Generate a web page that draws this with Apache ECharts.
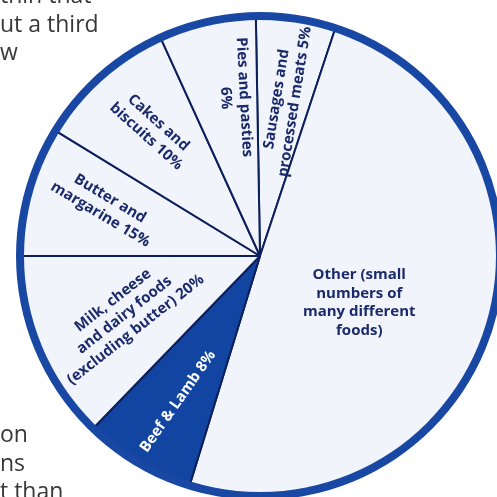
<!DOCTYPE html>
<html>
<head>
<meta charset="utf-8">
<script src="https://cdn.jsdelivr.net/npm/echarts@6/dist/echarts.min.js"></script>
<style>html,body{margin:0;padding:0;background:#fff}#c{width:497px;height:497px}</style>
</head>
<body>
<div id="c"></div>
<script>
// Slice names (clockwise from 12 o'clock) and labels as printed
const categories = ["Sausages and processed meats", "Other", "Beef & Lamb", "Milk, cheese and dairy foods", "Butter and margarine", "Cakes and biscuits", "Pies and pasties"];
const labels = [
  "Sausages and\nprocessed meats 5%",
  "Other (small\nnumbers of\nmany different\nfoods)",
  "Beef & Lamb 8%",
  "Milk, cheese\nand dairy foods\n(excluding butter) 20%",
  "Butter and\nmargarine 15%",
  "Cakes and\nbiscuits 10%",
  "Pies and pasties\n6%"
];
// Slice sizes as drawn in the picture (degrees of arc)
const sliceArcs = [19.3, 178.7, 27, 46, 31.4, 34, 23.5];
// Surrounding page text fragments
const topText = ["thin that", "ut a third", "w"];
const bottomText = ["on", "ns", "t than"];

// styling / placement (not data)
const labelRotate = [81, 0, 55, 38, -31, -42, -87];
const labelShift = [[0, 2], [-51, -1], [-9, 4], [9, 4], [-6, -4], [-8, -4], [-4, -10]];
const darkIndex = 2;
const CX = 260, CY = 256, R = 238;
const navy = "#1b2a6b", ring = "#1848a3", dark = "#1244a2", light = "#f1f4fa";

const chart = echarts.init(document.getElementById('c'));
const fills = categories.map((c, i) => ({
  name: c, value: sliceArcs[i],
  itemStyle: { color: i === darkIndex ? dark : light }
}));
const labelData = categories.map((c, i) => ({
  name: c, value: sliceArcs[i],
  label: {
    formatter: labels[i], rotate: labelRotate[i],
    color: i === darkIndex ? "#ffffff" : navy
  }
}));
const graphics = [];
const pageFont = '23px "Open Sans", sans-serif';
topText.forEach((t, i) => graphics.push({ type: 'text', left: 0, top: -15 + i * 28.5,
  style: { text: t, font: pageFont, fill: '#383838' }, silent: true }));
bottomText.forEach((t, i) => graphics.push({ type: 'text', left: 0, top: 424 + i * 28.5,
  style: { text: t, font: pageFont, fill: '#383838' }, silent: true }));

chart.setOption({
  animation: false,
  backgroundColor: '#ffffff',
  graphic: graphics,
  series: [
    {
      type: 'pie', center: [CX, CY], radius: [0, R], startAngle: 91, clockwise: true,
      silent: true, label: { show: false }, labelLine: { show: false },
      itemStyle: { borderColor: '#0c1f5c', borderWidth: 2 },
      data: fills
    },
    {
      type: 'pie', center: [CX, CY], radius: [R - 2, R + 6], silent: true,
      label: { show: false }, labelLine: { show: false },
      itemStyle: { color: ring, borderWidth: 0 },
      data: [{ value: 1 }]
    },
    {
      type: 'pie', center: [CX, CY], radius: [0, R * 1.3], startAngle: 91, clockwise: true,
      silent: true, avoidLabelOverlap: false,
      itemStyle: { color: 'rgba(0,0,0,0)', borderWidth: 0 },
      labelLine: { show: false },
      label: {
        show: true, position: 'inside', align: 'center',
        fontFamily: '"Open Sans", sans-serif', fontWeight: 700, fontSize: 15, lineHeight: 18.5
      },
      labelLayout: function (p) {
        const s = labelShift[p.dataIndex] || [0, 0];
        return { dx: s[0], dy: s[1] };
      },
      data: labelData
    }
  ]
});
</script>
</body>
</html>
